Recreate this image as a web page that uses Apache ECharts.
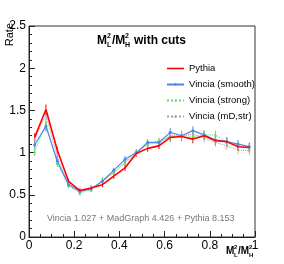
<!DOCTYPE html>
<html><head><meta charset="utf-8">
<script src="https://cdn.jsdelivr.net/npm/echarts@6/dist/echarts.min.js"></script>
<style>html,body{margin:0;padding:0;background:#fff}#c{width:284px;height:264px}</style>
</head><body><div id="c"></div>
<script>
var binCenters = [0.025,0.075,0.125,0.175,0.225,0.275,0.325,0.375,0.425,0.475,0.525,0.575,0.625,0.675,0.725,0.775,0.825,0.875,0.925,0.975];
var pythia   = [1.18,1.51,1.03,0.66,0.55,0.58,0.62,0.72,0.82,0.99,1.05,1.08,1.18,1.19,1.16,1.20,1.14,1.13,1.07,1.06];
var vSmooth  = [1.09,1.31,0.90,0.62,0.54,0.57,0.66,0.79,0.92,1.00,1.12,1.12,1.24,1.20,1.26,1.21,1.15,1.13,1.10,1.07];
var vStrong  = [1.01,1.34,0.87,0.61,0.52,0.56,0.68,0.76,0.89,1.00,1.10,1.14,1.19,1.21,1.19,1.21,1.21,1.12,1.08,1.05];
var vMDstr   = [1.15,1.45,0.95,0.63,0.55,0.57,0.66,0.76,0.88,0.99,1.10,1.11,1.20,1.20,1.22,1.17,1.12,1.08,1.03,1.02];
var errPythia = [0.05,0.06,0.04,0.03,0.03,0.03,0.03,0.03,0.04,0.04,0.04,0.04,0.05,0.05,0.05,0.05,0.05,0.05,0.05,0.05];
var errVincia  = [0.05,0.06,0.04,0.03,0.03,0.03,0.03,0.03,0.04,0.04,0.04,0.04,0.05,0.05,0.05,0.05,0.05,0.05,0.05,0.05];
var yTicks = [0,0.5,1,1.5,2,2.5];
var xTicks = [0,0.2,0.4,0.6,0.8,1];
var seriesNames = ['Pythia','Vincia (smooth)','Vincia (strong)','Vincia (mD,str)'];
var footer = 'Vincia 1.027 + MadGraph 4.426 + Pythia 8.153';

function pts(ys){ return binCenters.map(function(x,i){ return [x, ys[i]]; }); }
function errData(ys, es){ return binCenters.map(function(x,i){ return [x, ys[i]-es[i], ys[i]+es[i]]; }); }
function errSeries(ys, es, color, w){
  return {
    type:'custom', silent:true, z:1,
    data: errData(ys, es),
    encode:{x:0,y:[1,2]},
    renderItem:function(params, api){
      var lo = api.coord([api.value(0), api.value(1)]);
      var hi = api.coord([api.value(0), api.value(2)]);
      return {type:'line', shape:{x1:lo[0],y1:lo[1],x2:hi[0],y2:hi[1]}, style:{stroke:color, lineWidth:w}};
    }
  };
}
var FONT = 'Liberation Sans, Arial, sans-serif';
var chart = echarts.init(document.getElementById('c'), null, {renderer:'canvas'});
var colors = ['#ff0000','#4a86f0','#66dd66','#b89a9a'];
chart.setOption({
  animation:false,
  grid:{left:29, top:26, width:226, height:211, show:true, borderColor:'#333', borderWidth:1, containLabel:false},
  xAxis:{type:'value', min:0, max:1, interval:0.2,
    axisLine:{show:true, onZero:false, lineStyle:{color:'#222'}},
    axisTick:{inside:true, length:6, lineStyle:{color:'#222'}},
    minorTick:{show:true, splitNumber:4, length:3, lineStyle:{color:'#222'}},
    splitLine:{show:false},
    axisLabel:{fontFamily:FONT, fontSize:12, color:'#000', margin:3,
      customValues: xTicks,
      formatter:function(v){ return String(+v.toFixed(1)); }}
  },
  yAxis:{type:'value', min:0, max:2.5, interval:0.5,
    axisLine:{show:true, onZero:false, lineStyle:{color:'#222'}},
    axisTick:{inside:true, length:6, lineStyle:{color:'#222'}},
    minorTick:{show:true, splitNumber:5, length:3, lineStyle:{color:'#222'}},
    splitLine:{show:false},
    axisLabel:{fontFamily:FONT, fontSize:12, color:'#000', margin:3,
      customValues: yTicks,
      formatter:function(v){ return String(+v.toFixed(1)); }}
  },
  legend:{
    data:[{name:seriesNames[0], icon:'path://M0,0h17v1.6h-17z'}, seriesNames[1], seriesNames[2], seriesNames[3]],
    orient:'vertical', left:161, top:58, itemWidth:17, itemHeight:3, itemGap:5,
    textStyle:{fontFamily:FONT, fontSize:9.5, color:'#000', padding:[0,0,0,0], lineHeight:11}
  },
  series:[
    errSeries(pythia, errPythia, colors[0], 1),
    errSeries(vSmooth, errVincia, colors[1], 1),
    errSeries(vStrong, errVincia, colors[2], 1),
    errSeries(vMDstr, errVincia, colors[3], 0.8),
    {name:seriesNames[3], type:'line', data:pts(vMDstr), z:2, symbol:'circle', symbolSize:2,
      lineStyle:{color:colors[3], width:1, type:'dotted'}, itemStyle:{color:colors[3]}},
    {name:seriesNames[2], type:'line', data:pts(vStrong), z:3, symbol:'triangle', symbolSize:3,
      lineStyle:{color:colors[2], width:1, type:'dotted'}, itemStyle:{color:colors[2]}},
    {name:seriesNames[1], type:'line', data:pts(vSmooth), z:4, symbol:'circle', symbolSize:3,
      lineStyle:{color:colors[1], width:1.2}, itemStyle:{color:colors[1]}},
    {name:seriesNames[0], type:'line', data:pts(pythia), z:5, symbol:'none', showSymbol:false,
      lineStyle:{color:colors[0], width:1.6}, itemStyle:{color:colors[0]}}
  ],
  graphic:[
    {type:'text', left:4, top:23, rotation:Math.PI/2, style:{text:'Rate', font:'11px '+FONT, fill:'#000'}},
    {type:'group', left:97, top:33, children:[
      {type:'text', x:0, y:2, style:{text:'M', font:'bold 12px '+FONT, fill:'#000'}},
      {type:'text', x:10, y:0, style:{text:'2', font:'bold 7px '+FONT, fill:'#000'}},
      {type:'text', x:10, y:9, style:{text:'L', font:'bold 7px '+FONT, fill:'#000'}},
      {type:'text', x:15, y:2, style:{text:'/M', font:'bold 12px '+FONT, fill:'#000'}},
      {type:'text', x:28, y:0, style:{text:'2', font:'bold 7px '+FONT, fill:'#000'}},
      {type:'text', x:28, y:9, style:{text:'H', font:'bold 7px '+FONT, fill:'#000'}},
      {type:'text', x:37, y:2, style:{text:'with cuts', font:'bold 12px '+FONT, fill:'#000'}}
    ]},
    {type:'group', left:226, top:244, children:[
      {type:'text', x:0, y:2, style:{text:'M', font:'bold 10px '+FONT, fill:'#000'}},
      {type:'text', x:8, y:0, style:{text:'2', font:'bold 6px '+FONT, fill:'#000'}},
      {type:'text', x:8, y:8, style:{text:'L', font:'bold 6px '+FONT, fill:'#000'}},
      {type:'text', x:12, y:2, style:{text:'/M', font:'bold 10px '+FONT, fill:'#000'}},
      {type:'text', x:23, y:0, style:{text:'2', font:'bold 6px '+FONT, fill:'#000'}},
      {type:'text', x:23, y:8, style:{text:'H', font:'bold 6px '+FONT, fill:'#000'}}
    ]},
    {type:'text', left:47, top:214, style:{text:footer, font:'9px '+FONT, fill:'#777'}}
  ]
});
</script></body></html>
